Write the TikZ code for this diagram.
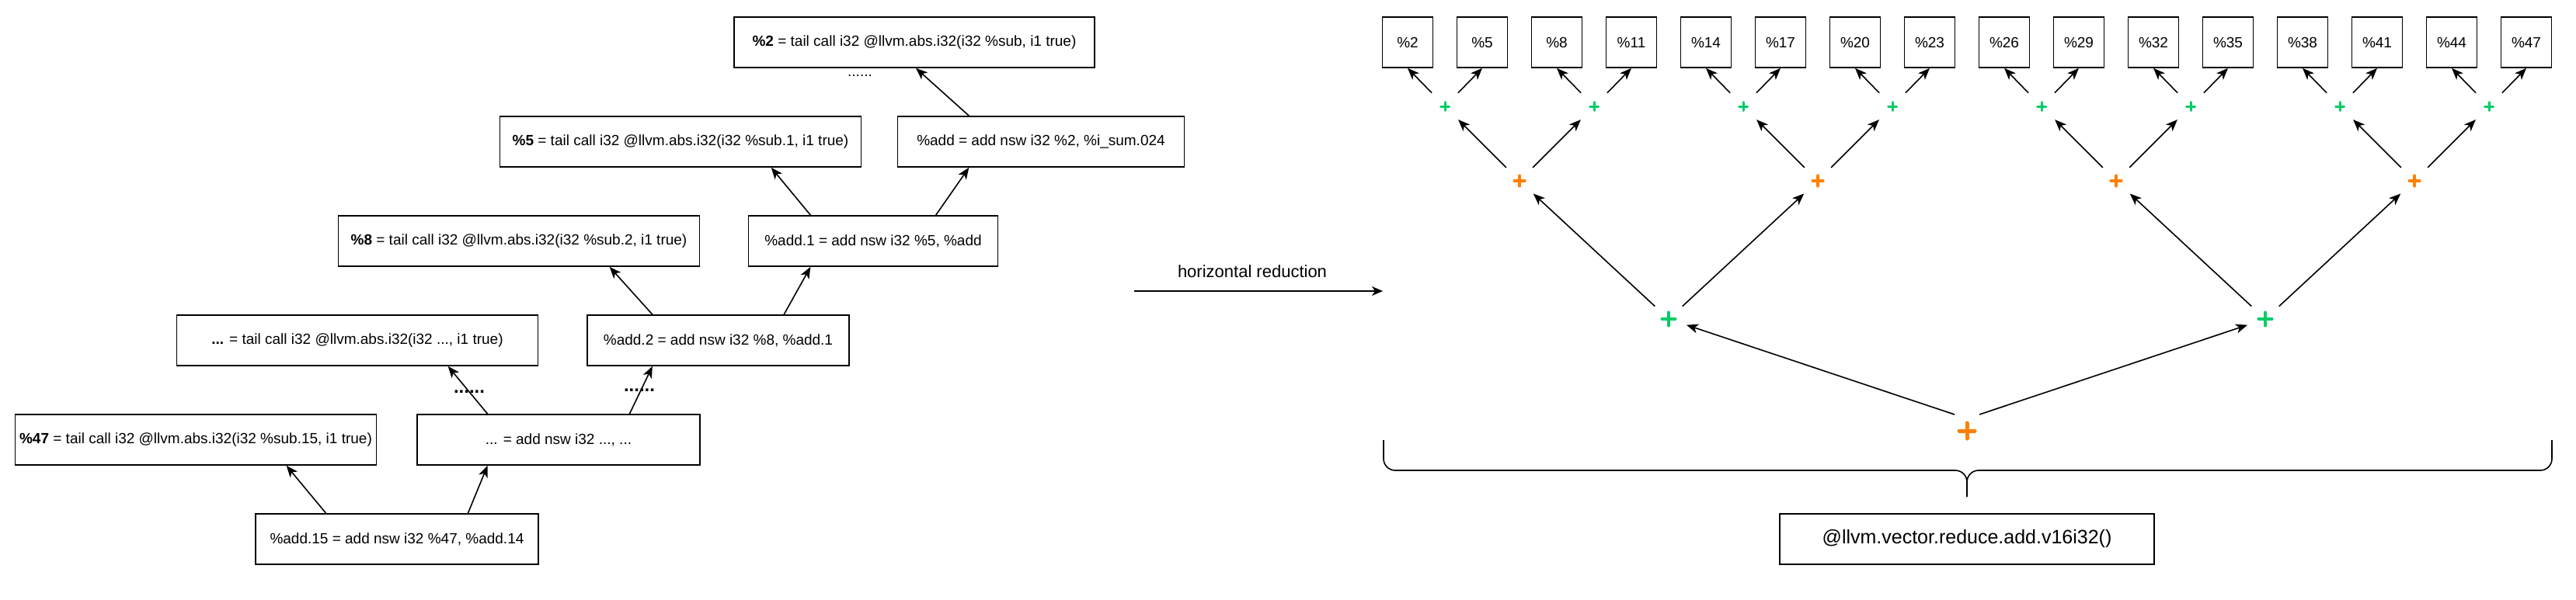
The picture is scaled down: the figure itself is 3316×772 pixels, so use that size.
\documentclass[tikz,border=0pt]{standalone}
\usepackage{fontspec}
\setmainfont{Liberation Sans}
\usetikzlibrary{arrows.meta,calc}
\definecolor{pgreen}{RGB}{0,204,102}
\definecolor{porange}{RGB}{255,128,0}
\newcommand\plusmark[4]{\draw[#4, line width=#3, line cap=round] ([xshift=-#2]#1.center) -- ([xshift=#2]#1.center) ([yshift=-#2]#1.center) -- ([yshift=#2]#1.center);}
\begin{document}
\begin{tikzpicture}[x=1pt,y=-1pt,
  every node/.style={font=\fontsize{19}{23}\selectfont},
  box/.style={draw, line width=1.6pt, minimum height=65pt, inner sep=0pt},
  sq/.style={box, minimum width=65pt},
  arr/.style={line width=1.6pt, -{Stealth[length=15pt,width=12pt,inset=4pt]}},
  pn/.style={circle, minimum size=48pt, inner sep=0pt},
  brace/.style={line width=1.6pt, rounded corners=15pt},
]
\fill[white] (0,0) rectangle (3316,772);
\useasboundingbox (0,0) rectangle (3316,772);

% ---------- left: sequential chain ----------
\node[box, minimum width=464pt] (L2) at (1177,54.5) {\textbf{\%2} = tail call i32 @llvm.abs.i32(i32 \%sub, i1 true)};
\node[box, minimum width=465pt] (L5) at (876,182.5) {\textbf{\%5} = tail call i32 @llvm.abs.i32(i32 \%sub.1, i1 true)};
\node[box, minimum width=369pt] (Ladd) at (1340,182.5) {\%add = add nsw i32 \%2, \%i\_sum.024};
\node[box, minimum width=465pt] (L8) at (668,310.5) {\textbf{\%8} = tail call i32 @llvm.abs.i32(i32 \%sub.2, i1 true)};
\node[box, minimum width=321pt] (Ladda) at (1124,310.5) {\%add.1 = add nsw i32 \%5, \%add};
\node[box, minimum width=465pt] (Ldots) at (460,438.5) {\textbf{...} = tail call i32 @llvm.abs.i32(i32 ..., i1 true)};
\node[box, minimum width=337pt] (Laddb) at (924.5,438.5) {\%add.2 = add nsw i32 \%8, \%add.1};
\node[box, minimum width=465pt] (L47) at (252,566.5) {\textbf{\%47} = tail call i32 @llvm.abs.i32(i32 \%sub.15, i1 true)};
\node[box, minimum width=364pt] (Laddd) at (719,566.5) {... = add nsw i32 ..., ...};
\node[box, minimum width=364pt] (Laddf) at (511,694.5) {\%add.15 = add nsw i32 \%47, \%add.14};

\node[inner sep=0pt] (dt0) at (1107,97) {......};
\node[font=\fontsize{24}{28}\selectfont\bfseries, inner sep=0pt] (dt1) at (604,505) {......};
\node[font=\fontsize{24}{28}\selectfont\bfseries, inner sep=0pt] (dt2) at (823,503) {......};

\draw[arr] ($(Laddf.north west)!.25!(Laddf.north east)$) -- ($(L47.south west)!.75!(L47.south east)$);
\draw[arr] ($(Laddf.north west)!.75!(Laddf.north east)$) -- ($(Laddd.south west)!.25!(Laddd.south east)$);
\draw[arr] ($(Laddd.north west)!.25!(Laddd.north east)$) -- ($(Ldots.south west)!.75!(Ldots.south east)$);
\draw[arr] ($(Laddd.north west)!.75!(Laddd.north east)$) -- ($(Laddb.south west)!.25!(Laddb.south east)$);
\draw[arr] ($(Laddb.north west)!.25!(Laddb.north east)$) -- ($(L8.south west)!.75!(L8.south east)$);
\draw[arr] ($(Laddb.north west)!.75!(Laddb.north east)$) -- ($(Ladda.south west)!.25!(Ladda.south east)$);
\draw[arr] ($(Ladda.north west)!.25!(Ladda.north east)$) -- ($(L5.south west)!.75!(L5.south east)$);
\draw[arr] ($(Ladda.north west)!.75!(Ladda.north east)$) -- ($(Ladd.south west)!.25!(Ladd.south east)$);
\draw[arr] ($(Ladd.north west)!.25!(Ladd.north east)$) -- ([xshift=2pt]L2.south);

% ---------- middle arrow ----------
\node[font=\fontsize{22}{26}\selectfont] (hr) at (1612,350) {horizontal reduction};
\coordinate (hrs) at (1460,375);
\coordinate (hre) at (1780,375);
\draw[line width=1.6pt, -{Stealth[length=14pt,width=12pt,inset=4pt]}] (hrs) -- (hre);

% ---------- right: tree reduction ----------
\foreach \k in {0,...,15} {
  \pgfmathtruncatemacro\lab{2+3*\k}
  \node[sq] (V\k) at ({1812+96*\k},54.5) {\%\lab};
}
\foreach \j in {0,...,7} { \node[pn] (G\j) at ({1860+192*\j},137) {}; }
\foreach \m in {0,...,3} { \node[pn] (O\m) at ({1956+384*\m},233) {}; }
\node[pn] (H0) at (2148,411) {};
\node[pn] (H1) at (2916,411) {};
\node[pn] (R) at (2532,555) {};

\foreach \j in {0,...,7} { \plusmark{G\j}{5.5pt}{3pt}{pgreen} }
\foreach \m in {0,...,3} { \plusmark{O\m}{6.8pt}{3.5pt}{porange} }
\plusmark{H0}{8.3pt}{4.5pt}{pgreen}
\plusmark{H1}{8.3pt}{4.5pt}{pgreen}
\plusmark{R}{10pt}{5pt}{porange}

\foreach \k in {0,...,15} {
  \pgfmathtruncatemacro\p{div(\k,2)}
  \draw[arr] (G\p) -- (V\k.south);
}
\foreach \j in {0,...,7} {
  \pgfmathtruncatemacro\p{div(\j,2)}
  \draw[arr] (O\p) -- (G\j);
}
\foreach \m in {0,...,3} {
  \pgfmathtruncatemacro\p{div(\m,2)}
  \draw[arr] (H\p) -- (O\m);
}
\draw[arr] ([shift={(-16,-21)}]R.center) -- (H0);
\draw[arr] ([shift={(16,-21)}]R.center) -- (H1);

% brace
\draw[brace] (1781,567) -- (1781,606) -- (2532,606) -- (2532,640);
\draw[brace] (3285,567) -- (3285,606) -- (2532,606) -- (2532,640);

\node[box, minimum width=482pt, font=\fontsize{25}{30}\selectfont] (vr) at (2532,694.5) {@llvm.vector.reduce.add.v16i32()};
\end{tikzpicture}
\end{document}
